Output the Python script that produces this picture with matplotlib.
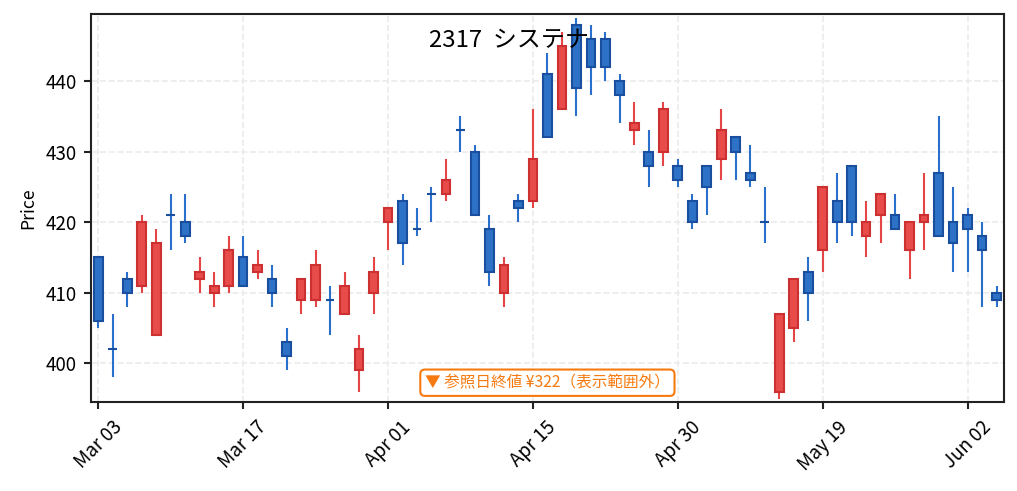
import matplotlib
matplotlib.use("Agg")
import matplotlib.pyplot as plt
import numpy as np
import pandas as pd

plt.rcParams['font.family'] = ['Noto Sans CJK JP', 'DejaVu Sans']
plt.rcParams['axes.unicode_minus'] = False

# trading days (holidays + one day with no data removed)
closed_days = ["2025-03-20", "2025-04-29", "2025-05-02", "2025-05-05", "2025-05-06"]
dates = pd.bdate_range("2025-03-03", "2025-06-04", freq="C", holidays=closed_days)

opens = [415, 402, 412, 411, 404, 421, 420, 412, 410, 411,
         415, 413, 412, 403, 409, 409, 409, 407, 399, 410,
         420, 423, 419, 424, 424, 433, 430, 419, 410, 423,
         423, 441, 436, 448, 446, 446, 440, 433, 430, 430,
         428, 423, 428, 429, 432, 427, 420, 396, 405, 413,
         416, 423, 428, 418, 421, 421, 416, 420, 427, 420,
         421, 418, 410]
highs = [415, 407, 413, 421, 419, 424, 424, 415, 413, 418,
         418, 416, 414, 405, 412, 416, 411, 413, 404, 415,
         422, 424, 422, 425, 429, 435, 431, 421, 415, 424,
         436, 444, 447, 449, 448, 447, 441, 437, 433, 437,
         429, 424, 428, 436, 432, 431, 425, 407, 412, 415,
         425, 427, 428, 423, 424, 424, 420, 427, 435, 425,
         422, 420, 411]
lows = [405, 398, 408, 410, 404, 416, 417, 410, 408, 410,
        411, 412, 408, 399, 407, 408, 404, 407, 396, 407,
        416, 414, 418, 420, 423, 430, 421, 411, 408, 420,
        422, 432, 436, 435, 438, 440, 434, 431, 425, 428,
        425, 419, 421, 426, 426, 425, 417, 395, 403, 406,
        413, 417, 418, 415, 417, 419, 412, 416, 418, 413,
        413, 408, 408]
closes = [406, 402, 410, 420, 417, 421, 418, 413, 411, 416,
          411, 414, 410, 401, 412, 414, 409, 411, 402, 413,
          422, 417, 419, 424, 426, 433, 421, 413, 414, 422,
          429, 432, 445, 439, 442, 442, 438, 434, 428, 436,
          426, 420, 425, 433, 430, 426, 420, 407, 412, 410,
          425, 420, 420, 420, 424, 419, 420, 421, 418, 417,
          419, 416, 409]

title = "2317  システナ"
note = "▼ 参照日終値 ¥322（表示範囲外）"

up_fill, up_edge, up_wick = "#e84c4a", "#cc3030", "#e64545"
dn_fill, dn_edge, dn_wick = "#2d72c6", "#1a4e9e", "#2a6fc9"

o = np.array(opens, dtype=float)
h = np.array(highs, dtype=float)
l = np.array(lows, dtype=float)
c = np.array(closes, dtype=float)
x = np.arange(len(opens))
up = c > o

fig = plt.figure(figsize=(1017 / 150, 491 / 150), dpi=150)
ax = fig.add_axes([0.0895, 0.181, 0.8975, 0.7905])

ax.vlines(x[up], l[up], h[up], color=up_wick, linewidth=1.0, zorder=2)
ax.vlines(x[~up], l[~up], h[~up], color=dn_wick, linewidth=1.0, zorder=2)

body_lo = np.minimum(o, c)
body_h = np.abs(c - o)
ax.bar(x[up], body_h[up], bottom=body_lo[up], width=0.6,
       color=up_fill, edgecolor=up_edge, linewidth=1.0, zorder=3)
ax.bar(x[~up], body_h[~up], bottom=body_lo[~up], width=0.6,
       color=dn_fill, edgecolor=dn_edge, linewidth=1.0, zorder=3)

ax.set_xlim(-0.5, len(opens) - 0.5)
ax.set_ylim(394.5, 449.5)
ax.set_yticks([400, 410, 420, 430, 440])
tick_idx = list(range(0, len(opens), 10))
ax.set_xticks(tick_idx)
ax.set_xticklabels([dates[i].strftime("%b %d") for i in tick_idx], rotation=45)
ax.tick_params(labelsize=9, color="#222222", width=1.0, length=3.5)
ax.set_ylabel("Price", fontsize=8.5)

ax.grid(True, linestyle="--", color="#ebebeb", linewidth=0.8, zorder=0)
ax.set_axisbelow(True)
for sp in ax.spines.values():
    sp.set_color("#222222")
    sp.set_linewidth(1.0)

fig.text(0.5, 0.918, title, ha="center", va="center", fontsize=11.5)

ax.text(0.5, 0.05, note, transform=ax.transAxes, ha="center", va="center",
        fontsize=7.5, color="#f77a10", zorder=5,
        bbox=dict(boxstyle="round,pad=0.3", facecolor="white",
                  edgecolor="#f77a10", linewidth=1.0))

fig.savefig("out.png", dpi=150)
